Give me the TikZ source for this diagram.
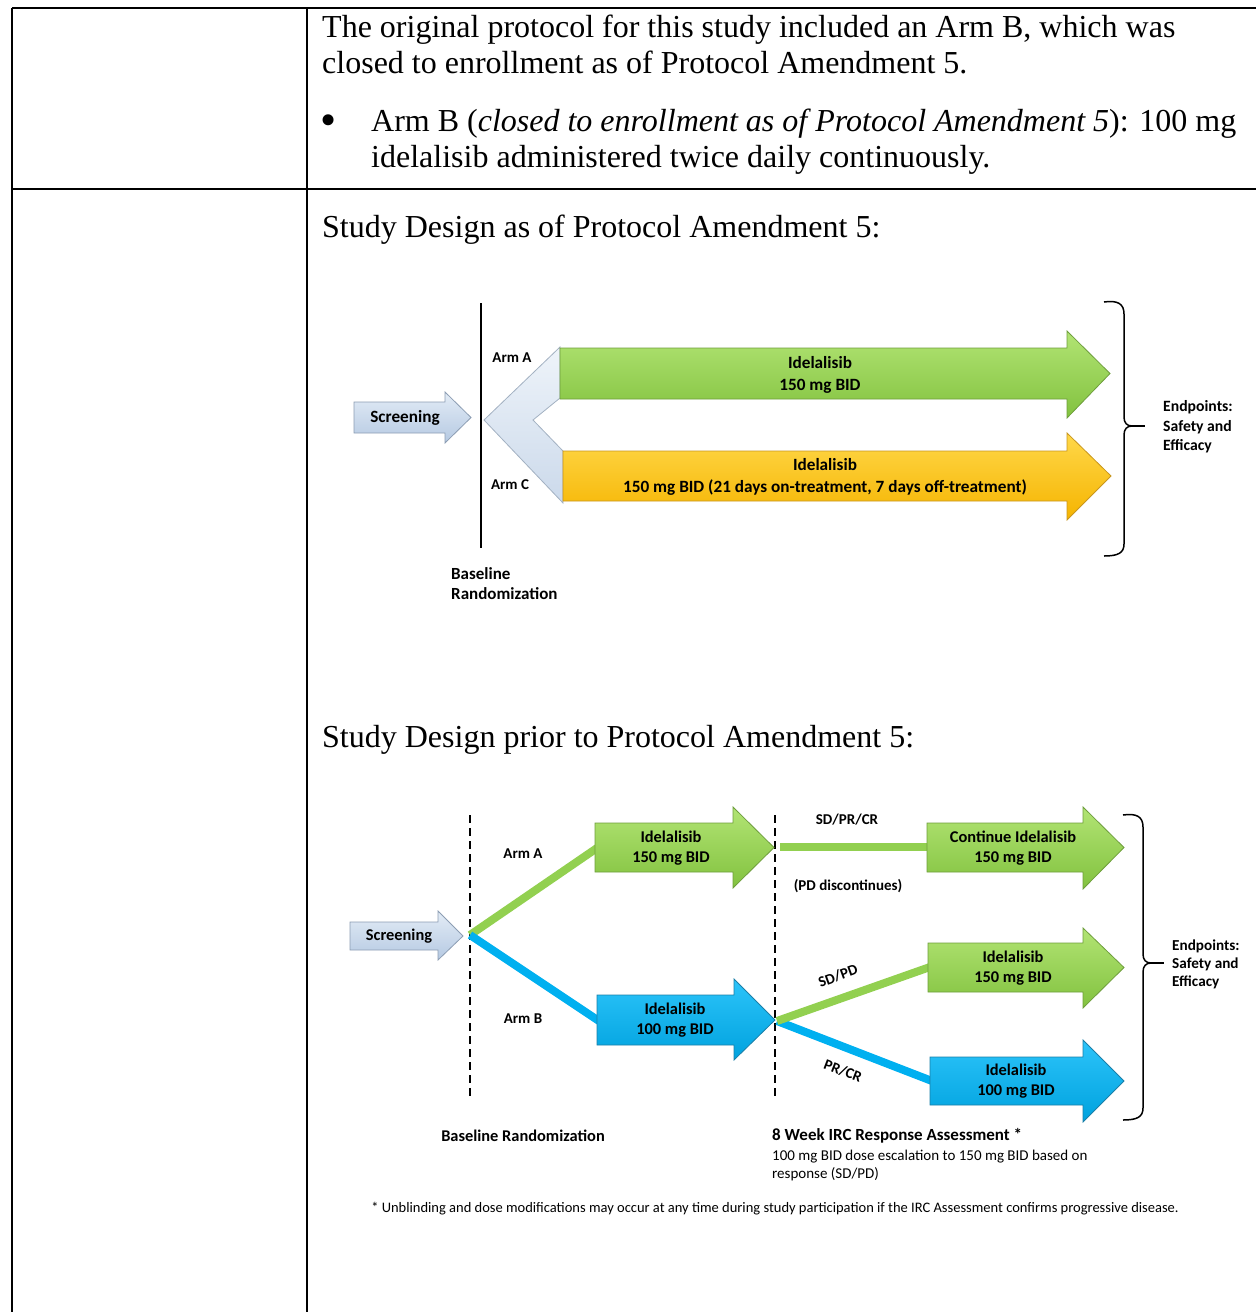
\documentclass[tikz,border=0pt]{standalone}
\usepackage{fontspec}
\setmainfont{Liberation Serif}
\newfontfamily\calfont{Carlito}
\definecolor{gTop}{HTML}{B2E474}
\definecolor{gBot}{HTML}{82C23F}
\definecolor{gEdge}{HTML}{6E9E3C}
\definecolor{gLine}{HTML}{92D050}
\definecolor{yTop}{HTML}{FFD84A}
\definecolor{yBot}{HTML}{F5B400}
\definecolor{yEdge}{HTML}{C8961E}
\definecolor{bTop}{HTML}{2CC4FA}
\definecolor{bBot}{HTML}{00A2DE}
\definecolor{bEdge}{HTML}{1A7FA8}
\definecolor{bLine}{HTML}{00B0F0}
\definecolor{sTop}{HTML}{E3ECF6}
\definecolor{sBot}{HTML}{B5C9E2}
\definecolor{sEdge}{HTML}{8C9DB3}
\newcommand\fatarrow[8]{%
  \path[#1] (#2,#3) -- (#5,#3) -- (#5,#6) -- (#8,{(#3+#4)/2}) -- (#5,#7) -- (#5,#4) -- (#2,#4) -- cycle;}
\begin{document}
\begin{tikzpicture}[x=1pt,y=-1pt,
  tline/.style={line width=1.3pt, black},
  serif/.style={anchor=base west, inner sep=0pt, font=\fontsize{32}{36}\selectfont},
  greenarrow/.style={top color=gTop, bottom color=gBot, draw=gEdge, line width=0.8pt},
  yellowarrow/.style={top color=yTop, bottom color=yBot, draw=yEdge, line width=0.8pt},
  bluearrow/.style={top color=bTop, bottom color=bBot, draw=bEdge, line width=0.8pt},
  screenarrow/.style={top color=sTop, bottom color=sBot, draw=sEdge, line width=0.8pt},
  chevronstyle/.style={top color=sTop!60!white, bottom color=sBot!70!white, draw=sEdge!80!white, line width=0.8pt},
  lab/.style={inner sep=0pt, align=center, font=\calfont\bfseries\fontsize{16.4}{20}\selectfont},
  labup/.style={inner sep=0pt, align=center, font=\calfont\bfseries\fontsize{17.2}{21.5}\selectfont},
  small/.style={inner sep=0pt, font=\calfont\bfseries\fontsize{15}{18}\selectfont},
  plain/.style={inner sep=0pt, anchor=base west, font=\calfont\fontsize{15}{18}\selectfont},
  conn/.style={line width=8pt},
  vsolid/.style={line width=2pt, black},
  vdash/.style={line width=2.5pt, black, dash pattern=on 8pt off 5pt},
  bracestyle/.style={line width=1.5pt, black}
]
\useasboundingbox (0,0) rectangle (1256,1312);
% table
\draw[tline] (12,8) -- (1256,8);
\draw[tline] (12,8) -- (12,1312);
\draw[tline] (307,8) -- (307,1312);
\draw[tline] (12,189) -- (1256,189);
% text in upper row
\node[serif] (t1) at (322,37) {The original protocol for this study included an Arm B, which was};
\node[serif] (t2) at (322,73) {closed to enrollment as of Protocol Amendment 5.};
\node[inner sep=0pt, font=\fontsize{46}{46}\selectfont] (bul) at (329,125) {\textbullet};
\node[serif] (t3) at (371,131) {Arm B (\textit{closed to enrollment as of Protocol Amendment 5}): 100 mg};
\node[serif] (t4) at (371,167) {idelalisib administered twice daily continuously.};
\node[serif] (h1) at (322,237) {Study Design as of Protocol Amendment 5:};
\node[serif] (h2) at (322,747) {Study Design prior to Protocol Amendment 5:};

% ===== upper diagram =====
\draw[vsolid] (481,303) -- (481,548);
\fatarrow{screenarrow}{354}{402}{433}{445}{392}{443}{471}
\node[labup] (scr1) at (405,418) {Screening};
\path[chevronstyle] (484,420) -- (560,347) -- (560,398) -- (533,420) -- (563,451) -- (563,503) -- cycle;
\fatarrow{greenarrow}{560}{348}{399}{1067}{331}{418}{1110}
\fatarrow{yellowarrow}{563}{451}{501}{1067}{433}{520}{1111}
\node[labup] (armA1) at (820,375) {Idelalisib\\150 mg BID};
\node[labup] (armC1) at (825,477) {Idelalisib\\150 mg BID (21 days on-treatment, 7 days off-treatment)};
\node[small] (la) at (512,358) {Arm A};
\node[small] (lc) at (510,485) {Arm C};
\node[small, align=left, anchor=north west, font=\calfont\bfseries\fontsize{17}{20.5}\selectfont] (bl1) at (451,567) {Baseline\\Randomization};
% brace 1
\draw[bracestyle] (1104,302) .. controls (1118,300) and (1124,304) .. (1124,314) -- (1124,417)
  .. controls (1124,423) and (1127,426) .. (1132,426)
  .. controls (1127,426) and (1124,429) .. (1124,435) -- (1124,544)
  .. controls (1124,553) and (1118,556) .. (1104,556);
\coordinate (bc1) at (1130,426);
\coordinate (bt1) at (1145,426);
\draw[bracestyle] (bc1) -- (bt1);
\node[small, align=left, anchor=west, font=\calfont\bfseries\fontsize{15.7}{19.5}\selectfont] (ep1) at (1163,427) {Endpoints:\\Safety and\\Efficacy};

% ===== lower diagram =====
\draw[vdash] (470,815) -- (470,1098);
\draw[vdash] (775,815) -- (775,1098);
\fatarrow{screenarrow}{350}{922}{950}{438}{911}{960}{463}
\node[lab] (scr2) at (399,936) {Screening};
\coordinate (rand) at (470,935);
\coordinate (aIn) at (597,848);
\coordinate (bIn) at (599,1021);
\draw[conn, gLine] (rand) -- (aIn);
\draw[conn, bLine] (rand) -- (bIn);
\fatarrow{greenarrow}{595}{823}{872}{733}{807}{888}{774}
\fatarrow{bluearrow}{597}{995}{1045}{734}{979}{1060}{775}
\node[lab] (a2) at (671,848) {Idelalisib\\150 mg BID};
\node[lab] (b2) at (675,1020) {Idelalisib\\100 mg BID};
\node[small] (la2) at (523,854) {Arm A};
\node[small] (lb2) at (523,1019) {Arm B};
% second stage
\coordinate (aOut) at (780,847);
\coordinate (cIn) at (929,847);
\coordinate (asmt) at (777,1021);
\coordinate (mIn) at (930,967);
\coordinate (lIn) at (932,1081);
\draw[conn, gLine] (aOut) -- (cIn);
\draw[conn, bLine] (asmt) -- (lIn);
\draw[conn, gLine] (asmt) -- (mIn);
\fatarrow{greenarrow}{927}{823}{872}{1083}{807}{889}{1124}
\fatarrow{greenarrow}{928}{943}{992}{1083}{928}{1008}{1124}
\fatarrow{bluearrow}{930}{1057}{1105}{1083}{1040}{1122}{1124}
\node[lab] (c2) at (1013,848) {Continue Idelalisib\\150 mg BID};
\node[lab] (m2) at (1013,968) {Idelalisib\\150 mg BID};
\node[lab] (l2) at (1016,1081) {Idelalisib\\100 mg BID};
\node[small] (sdprcr) at (847,820) {SD/PR/CR};
\node[small] (pdd) at (848,886) {(PD discontinues)};
\node[small, rotate=20] (sdpd) at (838,976) {SD/PD};
\node[small, rotate=-21] (prcr) at (843,1071) {PR/CR};
% brace 2
\draw[bracestyle] (1123,815) .. controls (1137,813) and (1143,817) .. (1143,827) -- (1143,954)
  .. controls (1143,960) and (1146,963) .. (1151,963)
  .. controls (1146,963) and (1143,966) .. (1143,972) -- (1143,1108)
  .. controls (1143,1117) and (1137,1120) .. (1123,1120);
\coordinate (bc2) at (1149,963);
\coordinate (bt2) at (1164,963);
\draw[bracestyle] (bc2) -- (bt2);
\node[small, align=left, anchor=west, font=\calfont\bfseries\fontsize{15.2}{18}\selectfont] (ep2) at (1172,964) {Endpoints:\\Safety and\\Efficacy};
% bottom labels
\node[small, font=\calfont\bfseries\fontsize{16.4}{18}\selectfont] (bl2) at (523,1136) {Baseline Randomization};
\node[small, anchor=west, font=\calfont\bfseries\fontsize{17}{18}\selectfont] (irc) at (772,1136) {8 Week IRC Response Assessment *};
\node[plain] (esc1) at (772,1160) {100 mg BID dose escalation to 150 mg BID based on};
\node[plain] (esc2) at (772,1178) {response (SD/PD)};
\node[inner sep=0pt, font=\calfont\fontsize{14.5}{15}\selectfont] (foot) at (775,1209) {* Unblinding and dose modifications may occur at any time during study participation if the IRC Assessment confirms progressive disease.};
\end{tikzpicture}
\end{document}
